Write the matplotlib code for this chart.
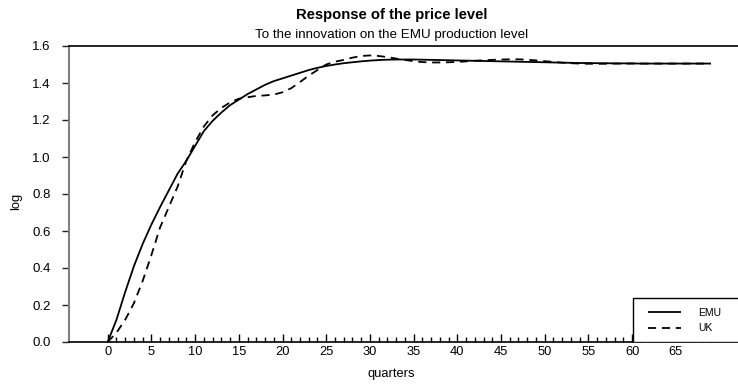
import numpy as np
import matplotlib
matplotlib.use("Agg")
import matplotlib.pyplot as plt
from matplotlib.patches import Rectangle
from matplotlib.ticker import FixedLocator

plt.rcParams['font.family'] = ['Liberation Sans', 'DejaVu Sans']

quarters = list(range(70))
emu = [0.00, 0.12, 0.27, 0.41, 0.53, 0.635, 0.73, 0.82, 0.91, 0.98,
       1.06, 1.14, 1.195, 1.24, 1.28, 1.31, 1.34, 1.365, 1.39, 1.41,
       1.425, 1.44, 1.455, 1.47, 1.482, 1.492, 1.50, 1.507, 1.512, 1.517,
       1.521, 1.524, 1.526, 1.527, 1.527, 1.527, 1.526, 1.525, 1.524, 1.523,
       1.522, 1.521, 1.520, 1.519, 1.518, 1.517, 1.516, 1.515, 1.514, 1.513,
       1.512, 1.511, 1.510, 1.509, 1.508, 1.508, 1.507, 1.507, 1.506, 1.506,
       1.506, 1.505, 1.505, 1.505, 1.505, 1.505, 1.505, 1.505, 1.505, 1.505]
uk = [0.00, 0.05, 0.12, 0.21, 0.33, 0.47, 0.62, 0.73, 0.84, 0.98,
      1.08, 1.165, 1.225, 1.265, 1.295, 1.315, 1.323, 1.33, 1.333, 1.337,
      1.35, 1.372, 1.405, 1.44, 1.47, 1.50, 1.515, 1.525, 1.537, 1.546,
      1.549, 1.546, 1.54, 1.532, 1.525, 1.518, 1.513, 1.511, 1.511, 1.512,
      1.514, 1.517, 1.52, 1.523, 1.525, 1.527, 1.528, 1.528, 1.526, 1.522,
      1.518, 1.514, 1.51, 1.507, 1.505, 1.504, 1.504, 1.504, 1.505, 1.505,
      1.505, 1.505, 1.505, 1.505, 1.505, 1.505, 1.505, 1.505, 1.505, 1.505]
series_names = ["EMU", "UK"]
x_major = list(range(0, 70, 5))
y_ticks = [0.0, 0.2, 0.4, 0.6, 0.8, 1.0, 1.2, 1.4, 1.6]

W, H = 738, 384
fig = plt.figure(figsize=(W / 100, H / 100), dpi=100)
x0, x1, yb, yt = 69, 738, 342, 46
ax = fig.add_axes([x0 / W, 1 - yb / H, (x1 - x0) / W, (yb - yt) / H])

l1, = ax.plot(quarters, emu, color='black', lw=1.3, solid_capstyle='butt')
l2, = ax.plot(quarters, uk, color='black', lw=1.3, dashes=(4.5, 3.2))

px_per_unit = 8.74
xmin = (x0 - 107.7) / px_per_unit
xmax = xmin + (x1 - x0) / px_per_unit
ax.set_xlim(xmin, xmax)
ax.set_ylim(0, 1.6)

ax.set_xticks(x_major)
ax.xaxis.set_minor_locator(FixedLocator([q for q in quarters if q % 5 != 0]))
ax.set_yticks(y_ticks)
ax.set_yticklabels([f"{v:.1f}" for v in y_ticks])

ax.tick_params(axis='x', which='major', direction='in', length=5.5, width=1, pad=3, labelsize=9.3)
ax.tick_params(axis='x', which='minor', direction='in', length=3.5, width=1)
ax.tick_params(axis='y', which='major', direction='out', length=5, width=1, pad=8, labelsize=9.5, color='#222222')

ax.spines['right'].set_visible(False)
ax.spines['top'].set_color('black')
ax.spines['top'].set_linewidth(1.2)
ax.spines['bottom'].set_linewidth(1.2)
ax.spines['left'].set_color('#808080')
ax.spines['left'].set_linewidth(1.5)

ax.set_xlabel("quarters", fontsize=9.3)
ax.xaxis.set_label_coords((391.5 - x0) / (x1 - x0), -0.088)
ax.set_ylabel("log", fontsize=9.3)
ax.yaxis.set_label_coords((22 - x0) / (x1 - x0), (yb - 201) / (yb - yt))

cx = 391.5 / W
fig.text(cx, 1 - 19 / H, "Response of the price level", ha='center', va='baseline',
         fontsize=10.6, fontweight='bold')
fig.text(cx, 1 - 38 / H, "To the innovation on the EMU production level", ha='center',
         va='baseline', fontsize=9.6)

# legend frame
lx0 = (632.7 - x0) / (x1 - x0)
lyt = (yb - 298.3) / (yb - yt)
ax.add_patch(Rectangle((lx0, 0), 1.2, lyt, transform=ax.transAxes, fill=True,
                       facecolor='white', edgecolor='black', lw=1.0, clip_on=True, zorder=4))
leg = ax.legend([l1, l2], series_names, loc='upper left',
                bbox_to_anchor=((648 - x0) / (x1 - x0), (yb - 307.5) / (yb - yt)),
                frameon=False, fontsize=7.5, handlelength=3.2, handletextpad=1.6,
                labelspacing=0.55, borderpad=0.0, borderaxespad=0.0)
leg.set_zorder(5)

fig.savefig("out.png", dpi=100)
